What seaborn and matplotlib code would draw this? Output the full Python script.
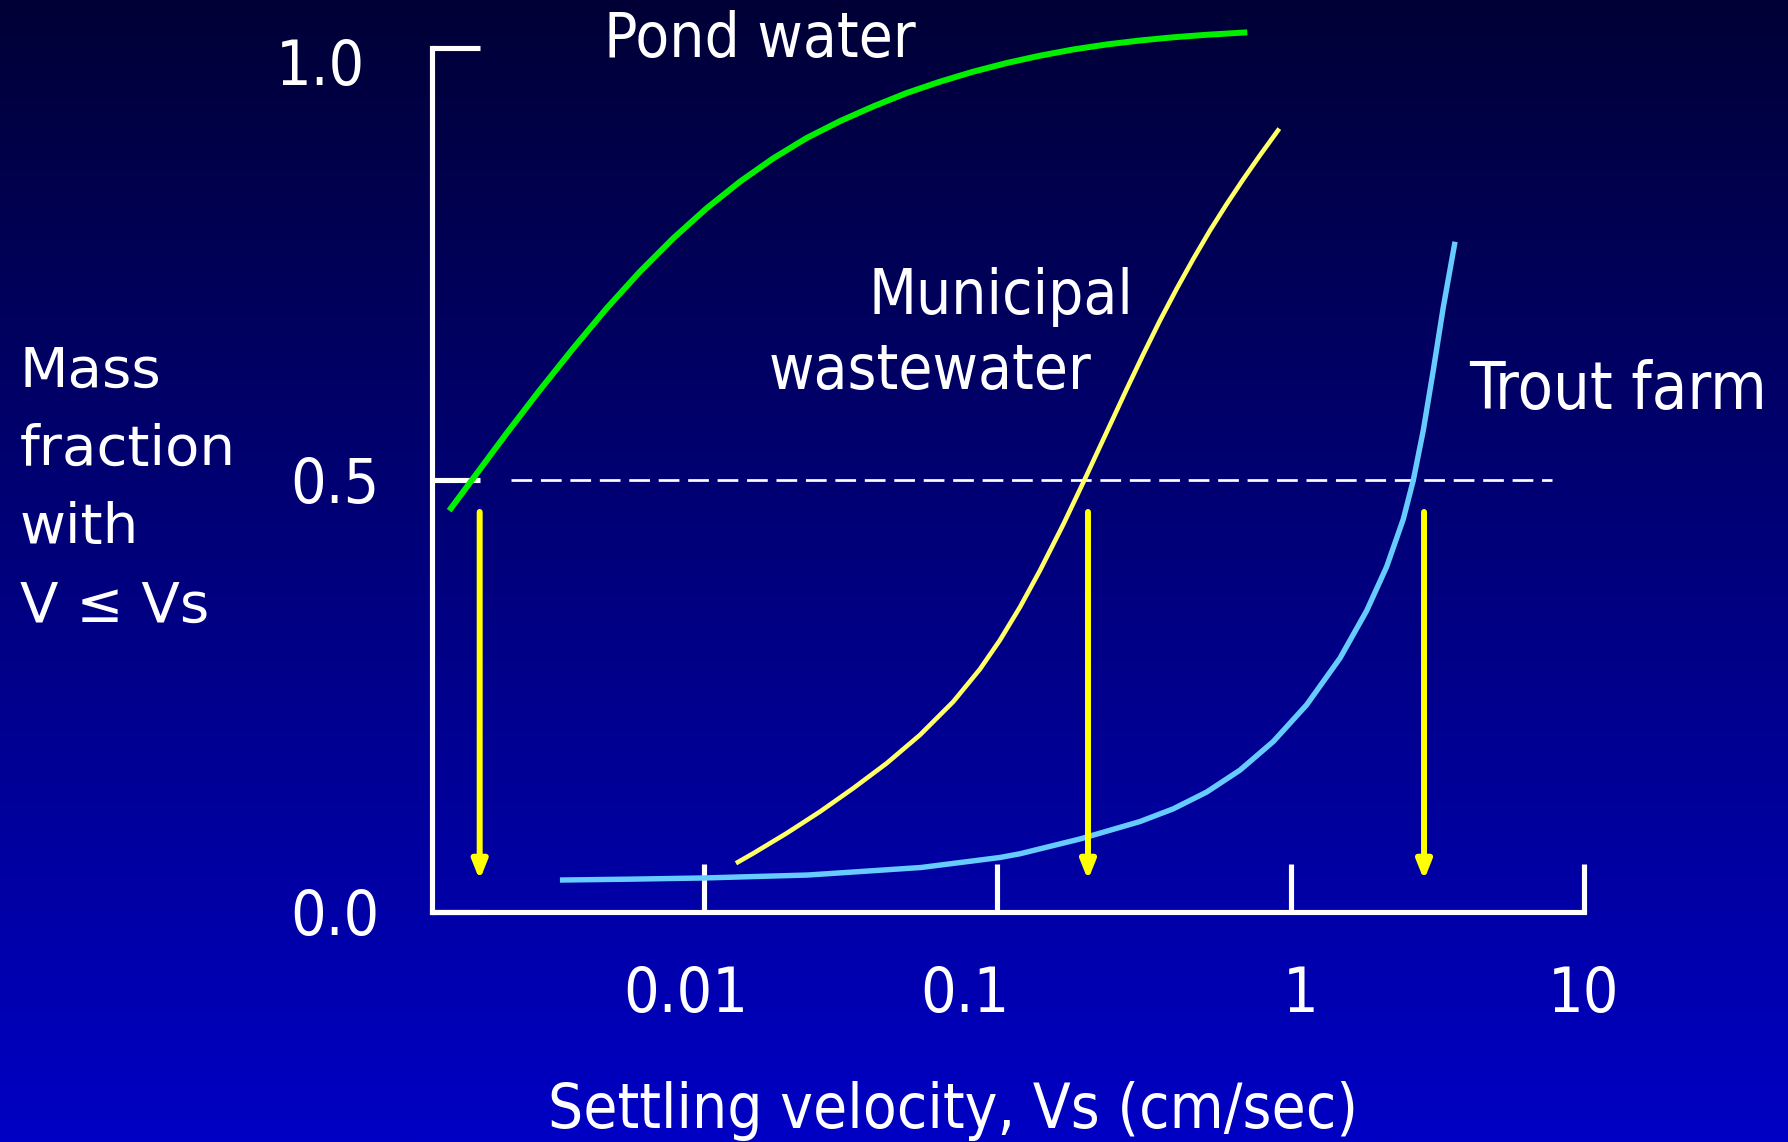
import numpy as np
import pandas as pd
import matplotlib
matplotlib.use("Agg")
import matplotlib.pyplot as plt
import seaborn as sns
from matplotlib.colors import LinearSegmentedColormap
from matplotlib.ticker import NullLocator
from matplotlib.transforms import ScaledTranslation

# ---------------- data ----------------
pond_v = [0.001354, 0.001635, 0.002125, 0.002760, 0.003585, 0.004660, 0.006050,
          0.007858, 0.010214, 0.01327, 0.01723, 0.02239, 0.02908, 0.03778,
          0.04909, 0.06377, 0.08281, 0.1076, 0.1398, 0.1816, 0.2359, 0.3065,
          0.3980, 0.5173, 0.7115]
pond_f = [0.4645, 0.5020, 0.5540, 0.6042, 0.6524, 0.6987, 0.7411,
          0.7797, 0.8145, 0.8453, 0.8723, 0.8958, 0.9153, 0.9324,
          0.9479, 0.9610, 0.9726, 0.9826, 0.9911, 0.9983, 1.0041, 1.0087,
          1.0124, 1.0153, 1.0181]

muni_v = [0.012855, 0.01473, 0.01913, 0.02486, 0.03228, 0.04196, 0.05450,
          0.07077, 0.08728, 0.10212, 0.1195, 0.1398, 0.1679, 0.1964, 0.2298,
          0.2761, 0.3146, 0.3585, 0.4088, 0.4658, 0.5309, 0.6052, 0.6894,
          0.7862, 0.9148]
muni_f = [0.0564, 0.0679, 0.0911, 0.1161, 0.1432, 0.1721, 0.2049,
          0.2434, 0.2811, 0.3147, 0.3529, 0.3953, 0.4486, 0.4972, 0.5470,
          0.6052, 0.6456, 0.6846, 0.7213, 0.7559, 0.7888, 0.8193, 0.8481,
          0.8759, 0.9067]

trout_v = [0.003229, 0.005594, 0.010079, 0.02262, 0.05494, 0.10212, 0.1195,
           0.1913, 0.3065, 0.3980, 0.5173, 0.6720, 0.8726, 1.134, 1.473,
           1.816, 2.125, 2.421, 2.619, 2.833, 3.064, 3.314, 3.634]
trout_f = [0.0370, 0.0380, 0.0394, 0.0428, 0.0515, 0.0631, 0.0674,
           0.0845, 0.1047, 0.1194, 0.1388, 0.1642, 0.1973, 0.2398, 0.2938,
           0.3487, 0.3997, 0.4547, 0.4998, 0.5576, 0.6271, 0.7000, 0.7758]

# median settling velocities (arrows) and the 50 % reference line
arrow_v = [0.00172, 0.2038, 2.849]
arrow_top = 0.463
arrow_tip = 0.037
half_level = 0.5
half_line_x = [0.0022, 7.78]

x_ticks = [0.01, 0.1, 1, 10]
x_tick_labels = ["0.01", "0.1", "1", "10"]
y_ticks = [0.0, 0.5, 1.0]
y_tick_labels = ["0.0", "0.5", "1.0"]

series_names = ["Pond water", "Municipal\nwastewater", "Trout farm"]
x_label = "Settling velocity, Vs (cm/sec)"
y_label = "Mass\nfraction\nwith\nV \u2264 Vs"

# ---------------- style ----------------
sns.set_style("ticks")
plt.rcParams["font.family"] = ["DejaVu Sans"]
plt.rcParams["font.stretch"] = "condensed"
plt.rcParams["lines.scale_dashes"] = False

W, H = 1788, 1142
fig = plt.figure(figsize=(W / 100, H / 100), dpi=100)

# gradient background
top_col = "#000036"
bot_col = "#0000C4"
bg = fig.add_axes([0, 0, 1, 1], zorder=-10)
grad = np.linspace(0, 1, 512).reshape(-1, 1)
bg.imshow(grad, cmap=LinearSegmentedColormap.from_list("bg", [top_col, bot_col]),
          aspect="auto", extent=[0, 1, 0, 1], origin="upper")
bg.set_axis_off()

# main axes (pixel geometry)
ax_l, ax_r, ax_b = 432, 1584, 912
ymax = 1.05
px_per_unit = 864
ax = fig.add_axes([ax_l / W, (H - ax_b) / H, (ax_r - ax_l) / W, ymax * px_per_unit / H])
ax.patch.set_alpha(0)
ax.set_xscale("log")
xmin = 10 ** -2.927
ax.set_xlim(xmin, 10)
ax.set_ylim(0, ymax)

lw_kw = dict(estimator=None, sort=False, ax=ax, legend=False)
sns.lineplot(x=pond_v, y=pond_f, color="#00F000", linewidth=4.3, **lw_kw)
sns.lineplot(x=muni_v, y=muni_f, color="#FFFF66", linewidth=3.3, **lw_kw)
sns.lineplot(x=trout_v, y=trout_f, color="#66CCFF", linewidth=3.9, **lw_kw)
for ln in ax.get_lines():
    ln.set_clip_on(False)
    ln.set_solid_capstyle("butt")
    ln.set_solid_joinstyle("round")

# dashed 50 % line
ax.hlines(half_level, half_line_x[0], half_line_x[1], colors="white",
          linewidth=1.95, linestyles=(0, (14.9, 6.3)), zorder=1)

# arrows
for xv in arrow_v:
    ax.annotate("", xy=(xv, arrow_tip), xytext=(xv, arrow_top),
                arrowprops=dict(arrowstyle="-|>,head_length=11,head_width=4.4",
                                mutation_scale=1, color="#FFFF00", lw=4.3,
                                shrinkA=0, shrinkB=0),
                zorder=3)

# spines
for s in ["top", "right"]:
    ax.spines[s].set_visible(False)
for s in ["left", "bottom"]:
    ax.spines[s].set_color("white")
    ax.spines[s].set_linewidth(3.7)
ax.spines["left"].set_bounds(0, 1.0)
ax.spines["bottom"].set_bounds(xmin, 10)

ax.set_xticks(x_ticks, labels=x_tick_labels)
ax.set_yticks(y_ticks, labels=y_tick_labels)
ax.xaxis.set_minor_locator(NullLocator())
ax.yaxis.set_minor_locator(NullLocator())
ax.tick_params(direction="in", length=34.5, width=3.7, color="white",
               labelcolor="white", labelsize=45, pad=38)

# small per-label nudges to match the original slide layout (pixels)
x_nudge = [-18, -32, 10, 0]
for lbl, dx in zip(ax.get_xticklabels(), x_nudge):
    lbl.set_transform(lbl.get_transform() + ScaledTranslation(dx / 100, 0, fig.dpi_scale_trans))
y_nudge = [(0, 0), (0, 0), (-14, -13)]
for lbl, (dx, dy) in zip(ax.get_yticklabels(), y_nudge):
    lbl.set_transform(lbl.get_transform() + ScaledTranslation(dx / 100, dy / 100, fig.dpi_scale_trans))

# labels
ax.set_xlabel(x_label, fontsize=44.5, color="white")
ax.xaxis.set_label_coords((953 - ax_l) / (ax_r - ax_l), (ax_b - 1081) / (ymax * px_per_unit))
ax.set_ylabel(y_label, rotation=0, ha="left", va="top", multialignment="left",
              fontsize=40.5, fontstretch="normal", color="white", linespacing=1.58)
ax.yaxis.set_label_coords((19.5 - ax_l) / (ax_r - ax_l), (ax_b - 344.5) / (ymax * px_per_unit))

# series names
txt_kw = dict(color="white", ha="left", va="baseline")
fig.text(604 / W, 1 - 57 / H, series_names[0], fontsize=44.5, **txt_kw)
mun1, mun2 = series_names[1].split("\n")
fig.text(869 / W, 1 - 314 / H, mun1, fontsize=44.5, **txt_kw)
fig.text(769 / W, 1 - 389 / H, mun2, fontsize=44.5, **txt_kw)
fig.text(1469 / W, 1 - 409 / H, series_names[2], fontsize=46.5, **txt_kw)

fig.savefig("out.png", dpi=100, facecolor=bot_col)
